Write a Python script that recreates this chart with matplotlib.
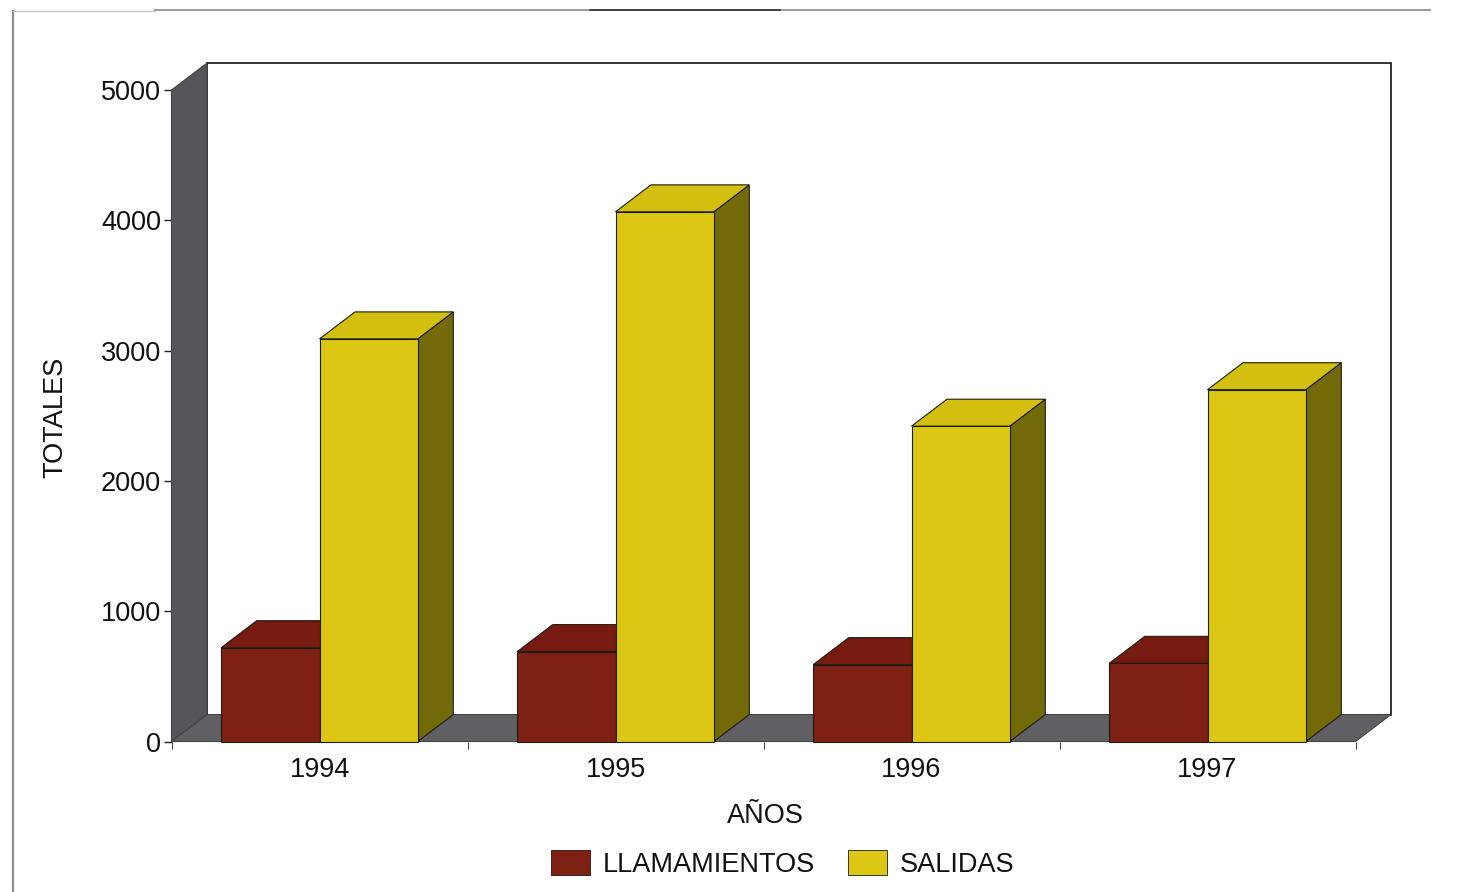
#!/usr/bin/env python3

import matplotlib
matplotlib.use('Agg')
from matplotlib import pyplot as plt
from matplotlib.lines import Line2D
from matplotlib.patches import Patch, Polygon

years = ['1994', '1995', '1996', '1997']
llamamientos = [720, 690, 590, 600]
salidas = [3090, 4065, 2420, 2700]
yticks = [0, 1000, 2000, 3000, 4000, 5000]

RED = '#7f2015'
RED_TOP = '#771a10'
RED_SIDE = '#4a120b'
YELLOW = '#dcc814'
YELLOW_TOP = '#d3bf10'
YELLOW_SIDE = '#736a0a'
WALL = '#55555a'
FLOOR = '#606064'
EDGE = '#1c1c10'

W, H = 1481, 892
# depth of the fake 3d box, in data units
DX = 0.12
DY = 207
BAR_W = 0.332


def add_poly(ax, pts, color, z, edge=EDGE, lw=0.8):
  ax.add_patch(Polygon(pts, closed=True, facecolor=color, edgecolor=edge,
                       linewidth=lw, zorder=z, clip_on=False))


def draw_bar(ax, x0, value, front, top, side, z):
  x1 = x0 + BAR_W
  add_poly(ax, [(x1, 0), (x1 + DX, DY), (x1 + DX, value + DY), (x1, value)], side, z)
  add_poly(ax, [(x0, value), (x0 + DX, value + DY), (x1 + DX, value + DY), (x1, value)], top, z)
  ax.bar(x0, value, BAR_W, align='edge', color=front, edgecolor=EDGE, linewidth=0.8,
         zorder=z, clip_on=False)


if __name__ == '__main__':

  plt.rcParams['font.family'] = ['Liberation Sans', 'DejaVu Sans']
  plt.rcParams['font.size'] = 19.5

  fig = plt.figure(figsize=(W / 100, H / 100), dpi=100)
  ax = fig.add_axes([171.5 / W, 1 - 741.5 / H, 1184 / W, 651.5 / H])
  ax.set_xlim(0, 4)
  ax.set_ylim(0, 5000)
  for s in ax.spines.values():
    s.set_visible(False)

  # back wall, side wall and floor
  add_poly(ax, [(DX, DY), (DX, 5000 + DY), (4 + DX, 5000 + DY), (4 + DX, DY)], 'white', 1,
           edge='#111111', lw=1.2)
  add_poly(ax, [(0, 0), (0, 5000), (DX, 5000 + DY), (DX, DY)], WALL, 2, edge='#444448')
  add_poly(ax, [(0, 0), (DX, DY), (4 + DX, DY), (4, 0)], FLOOR, 2, edge='#444448')

  # bars, left to right, red behind yellow
  for i in range(len(years)):
    draw_bar(ax, i + 0.5 - BAR_W, llamamientos[i], RED, RED_TOP, RED_SIDE, 3 + 2 * i)
    draw_bar(ax, i + 0.5, salidas[i], YELLOW, YELLOW_TOP, YELLOW_SIDE, 4 + 2 * i)

  ax.set_yticks(yticks)
  ax.tick_params(axis='y', length=6, width=1, pad=1.5, color='#222222', labelcolor='#111111')
  ax.set_xticks(range(5))
  ax.set_xticklabels([])
  ax.tick_params(axis='x', which='major', length=5, width=0.8, color='#444444')
  ax.set_xticks([i + 0.5 for i in range(len(years))], minor=True)
  ax.set_xticklabels(years, minor=True)
  ax.tick_params(axis='x', which='minor', length=0, pad=11, labelcolor='#111111')

  ax.set_xlabel('AÑOS', va='center', color='#111111')
  ax.xaxis.set_label_coords(0.5013, -0.115)
  ax.set_ylabel('TOTALES', va='center', color='#111111')
  ax.yaxis.set_label_coords(-0.098, 0.498)

  handles = [Patch(facecolor=RED, edgecolor=EDGE, linewidth=0.6),
             Patch(facecolor=YELLOW, edgecolor=EDGE, linewidth=0.6)]
  fig.legend(handles, ['LLAMAMIENTOS', 'SALIDAS'], ncol=2, frameon=False, loc='center',
             bbox_to_anchor=(782.5 / W, 1 - 864 / H), handlelength=1.44, handleheight=1.0,
             handletextpad=0.45, columnspacing=1.24, labelcolor='#111111')

  # page frame around the chart
  fig.add_artist(Line2D([13 / W, 13 / W], [0, 1 - 11 / H], color='#8c8c8c', linewidth=1.6))
  fig.add_artist(Line2D([155 / W, 1430 / W], [1 - 10 / H, 1 - 10 / H], color='#9a9a9a', linewidth=1.4))
  fig.add_artist(Line2D([590 / W, 780 / W], [1 - 10 / H, 1 - 10 / H], color='#333333', linewidth=1.2))
  fig.add_artist(Line2D([13 / W, 155 / W], [1 - 11 / H, 1 - 11 / H], color='#c4c4c4', linewidth=1))

  fig.savefig('out.png', dpi=100)
